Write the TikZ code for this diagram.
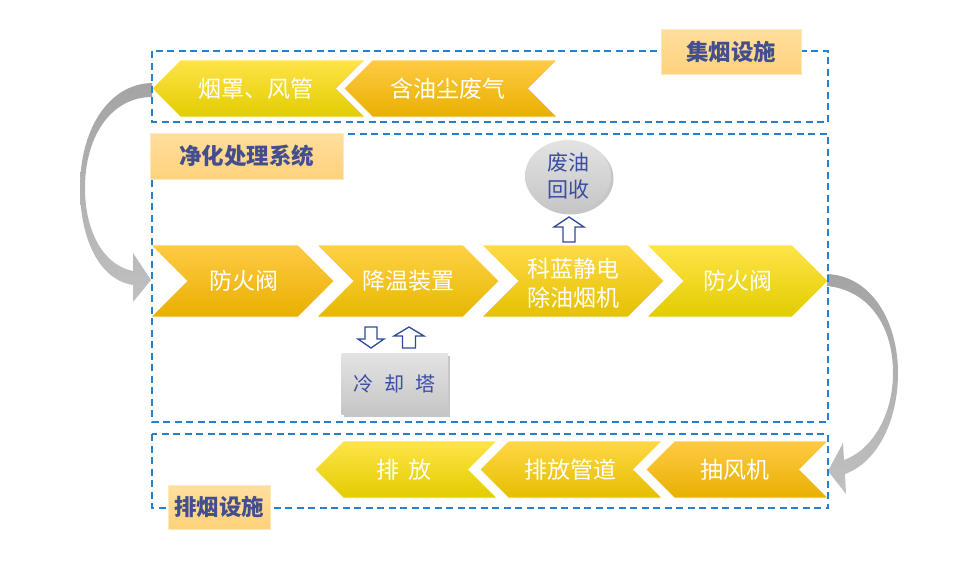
\documentclass[tikz,border=0pt]{standalone}
\usepackage{fontspec}
\newfontfamily\cjk{Noto Sans CJK SC}
\usetikzlibrary{shapes.geometric,shadows}
\definecolor{orT}{HTML}{FFCA45}
\definecolor{orM}{HTML}{FFC000}
\definecolor{orB}{HTML}{E8B000}
\definecolor{yeT}{HTML}{FFE448}
\definecolor{yeM}{HTML}{FFE000}
\definecolor{yeB}{HTML}{E2CC00}
\definecolor{dashblue}{HTML}{2381CF}
\definecolor{lblT}{HTML}{FFDE9E}
\definecolor{lblB}{HTML}{FFD27C}
\definecolor{lblEdge}{HTML}{FFE9BC}
\definecolor{lbltext}{HTML}{434E8E}
\definecolor{bluetext}{HTML}{3A4DA0}
\definecolor{arrowblue}{HTML}{2F4A96}
\definecolor{cgT}{HTML}{A4A4A4}
\definecolor{cgM}{HTML}{F2F2F2}
\definecolor{cgB}{HTML}{C0C0C0}
% right-pointing chevron: left x, centre y, tip x, half height, style
\newcommand{\chevR}[5]{\path[chevshape,#5] ({#1},{#2-#4}) -- ({#3-#4},{#2-#4}) -- ({#3},{#2}) -- ({#3-#4},{#2+#4}) -- ({#1},{#2+#4}) -- ({#1+#4},{#2}) -- cycle;}
% left-pointing chevron: tip x, centre y, right x, half height, style
\newcommand{\chevL}[5]{\path[chevshape,#5] ({#1},{#2}) -- ({#1+#4},{#2-#4}) -- ({#3},{#2-#4}) -- ({#3-#4},{#2}) -- ({#3},{#2+#4}) -- ({#1+#4},{#2+#4}) -- cycle;}
% hollow block arrow: centre x, head-end y, tail-end y, head width, shaft width, head length (signed)
\newcommand{\hollowarrow}[6]{\path[hollow] ({#1},{#2}) -- ({#1+#4/2},{#2+#6}) -- ({#1+#5/2},{#2+#6}) -- ({#1+#5/2},{#3}) -- ({#1-#5/2},{#3}) -- ({#1-#5/2},{#2+#6}) -- ({#1-#4/2},{#2+#6}) -- cycle;}
\begin{document}
\begin{tikzpicture}[x=1pt,y=-1pt,
  chevshape/.style={draw=white,line width=0.6pt},
  chevcol/.style={top color=orT!#1!yeT,middle color=orM!#1!yeM,bottom color=orB!#1!yeB},
  chevtext/.style={text=white,font=\cjk\fontsize{23}{29}\selectfont,align=center,inner sep=0pt},
  dashbox/.style={draw=dashblue,line width=1.6pt,dash pattern=on 7pt off 4.5pt},
  lbl/.style={draw=lblEdge,line width=0.8pt,top color=lblT,bottom color=lblB,text=lbltext,
    font=\cjk\bfseries\fontsize{22.5}{26}\selectfont,inner sep=0pt},
  bigarrow/.style={top color=cgT,middle color=cgM,bottom color=cgB},
  hollow/.style={draw=arrowblue,line width=1.3pt,fill=white,line join=miter},
  graybox/.style={top color=gray!22,bottom color=gray!45,text=bluetext,
    drop shadow={shadow xshift=2.5pt,shadow yshift=-2.5pt,opacity=0.45}}]
\useasboundingbox (0,0) rectangle (970,562);

% curved gray arrows
\path[bigarrow] (152,83) .. controls (108,84) and (80,130) .. (80,188)
  .. controls (80,240) and (100,280) .. (133,285) -- (133,302) -- (151,280) -- (133,253) -- (133,271)
  .. controls (106,266) and (85,235) .. (85,188)
  .. controls (85,135) and (112,97) .. (152,97) -- cycle;
\path[bigarrow] (827,274) .. controls (872,276) and (898,322) .. (898,373)
  .. controls (898,420) and (878,462) .. (845,474) -- (846,494) -- (828,471) -- (843,443) -- (844,460)
  .. controls (872,450) and (893,415) .. (893,373)
  .. controls (893,325) and (868,290) .. (827,286) -- cycle;

% top row
\chevL{152}{88.5}{365}{28.5}{chevcol=0}
\chevL{344}{88.5}{557}{28.5}{chevcol=100}
\node[chevtext] (hood) at (256,88.5) {烟罩、风管};
\node[chevtext] (gas) at (448,88.5) {含油尘废气};

% middle row
\chevR{151}{281}{334}{36}{chevcol=100}
\chevR{317}{281}{499}{36}{chevcol=72}
\chevR{482}{281}{664}{36}{chevcol=38}
\chevR{647}{281}{828}{36}{chevcol=0}
\node[chevtext] (valve1) at (244,281) {防火阀};
\node[chevtext] (cool) at (408,281) {降温装置};
\node[chevtext] (esp) at (573,283) {科蓝静电\\除油烟机};
\node[chevtext] (valve2) at (738,281) {防火阀};

% bottom row
\chevL{646}{469.5}{828}{28.5}{chevcol=100}
\chevL{480}{469.5}{662}{28.5}{chevcol=50}
\chevL{315}{469.5}{497}{28.5}{chevcol=0}
\node[chevtext] (fan) at (735,469.5) {抽风机};
\node[chevtext] (duct) at (570,469.5) {排放管道};
\node[chevtext] (out) at (404,469.5) {排\hspace{9pt}放};

% oil recovery and cooling tower
\node[graybox,ellipse,minimum width=86pt,minimum height=72pt,inner sep=0pt,
  font=\cjk\fontsize{21}{27}\selectfont,align=center] (oil) at (568,176) {废油\\回收};
\node[graybox,minimum width=106pt,minimum height=61pt,inner sep=0pt,
  font=\cjk\fontsize{20}{24}\selectfont] (tower) at (394.5,384) {冷\hspace{11pt}却\hspace{11pt}塔};
\hollowarrow{569}{217}{242}{30}{12}{10}
\hollowarrow{371}{348}{327}{26}{12}{-9}
\hollowarrow{409}{327}{348}{30}{13}{9}

% dashed frames
\draw[dashbox] (152,51) rectangle (828,122);
\draw[dashbox] (152,134) rectangle (828,422);
\draw[dashbox] (152,434) rectangle (828,508);

% labels
\node[lbl,minimum width=140pt,minimum height=45pt] (lblA) at (731,51.5) {集烟设施};
\node[lbl,minimum width=193pt,minimum height=46pt] (lblB) at (246.5,156) {净化处理系统};
\node[lbl,minimum width=102pt,minimum height=44pt] (lblC) at (219,507) {排烟设施};
\end{tikzpicture}
\end{document}
